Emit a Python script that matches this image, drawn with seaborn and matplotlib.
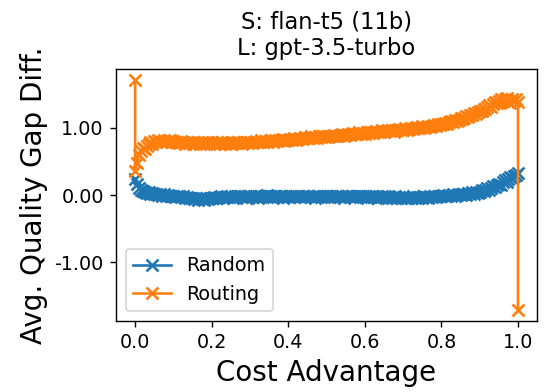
import numpy as np
import pandas as pd
import matplotlib
matplotlib.use("Agg")
import matplotlib.pyplot as plt
import seaborn as sns
from matplotlib.ticker import FormatStrFormatter

title_text = "S: flan-t5 (11b)\nL: gpt-3.5-turbo"
x_label = "Cost Advantage"
y_label = "Avg. Quality Gap Diff."
series_names = ["Random", "Routing"]

grid = [round(i * 0.005, 3) for i in range(201)]

random_y = [
    0.24, 0.16, 0.11, 0.08, 0.06, 0.05, 0.03, 0.04, 0.02, 0.03,
    0.01, 0.02, 0.00, 0.01, -0.01, 0.01, -0.02, 0.00, -0.01, -0.02,
    -0.01, -0.03, -0.02, -0.01, -0.03, -0.02, -0.04, -0.03, -0.05, -0.04,
    -0.05, -0.06, -0.04, -0.07, -0.05, -0.06, -0.07, -0.05, -0.06, -0.04,
    -0.05, -0.03, -0.04, -0.05, -0.03, -0.02, -0.04, -0.03, -0.01, -0.03,
    -0.02, -0.04, -0.01, -0.03, -0.02, -0.01, -0.03, -0.02, -0.04, -0.01,
    -0.02, -0.03, -0.01, -0.02, -0.04, -0.02, -0.01, -0.03, -0.02, 0.00,
    -0.02, -0.03, -0.01, -0.02, -0.03, -0.01, -0.02, -0.04, -0.01, -0.02,
    -0.03, -0.01, -0.02, -0.03, -0.02, -0.01, -0.03, -0.02, -0.01, -0.03,
    -0.02, -0.01, -0.03, -0.02, -0.04, -0.01, -0.02, -0.03, -0.02, -0.01,
    -0.02, -0.03, -0.01, -0.02, -0.03, -0.02, -0.01, -0.03, -0.02, -0.04,
    -0.01, -0.02, -0.03, -0.02, -0.01, -0.03, -0.02, -0.01, -0.02, -0.03,
    -0.02, -0.04, -0.02, -0.03, -0.01, -0.03, -0.02, -0.04, -0.03, -0.02,
    -0.03, -0.04, -0.02, -0.03, -0.05, -0.03, -0.02, -0.04, -0.03, -0.04,
    -0.03, -0.05, -0.04, -0.03, -0.04, -0.02, -0.04, -0.03, -0.05, -0.03,
    -0.04, -0.02, -0.03, -0.04, -0.02, -0.03, -0.01, -0.03, -0.02, -0.01,
    -0.02, 0.00, -0.01, -0.02, 0.00, -0.01, 0.01, -0.01, 0.00, 0.01,
    0.00, 0.02, 0.01, 0.00, 0.03, 0.02, 0.04, 0.02, 0.05, 0.03,
    0.05, 0.07, 0.06, 0.08, 0.10, 0.08, 0.11, 0.13, 0.12, 0.15,
    0.17, 0.15, 0.19, 0.22, 0.20, 0.24, 0.26, 0.25, 0.28, 0.30,
    0.33,
]

routing_x = [0.0] + grid + [1.0]
routing_y = [
    1.70,
    0.36, 0.48, 0.60, 0.66, 0.70, 0.68, 0.72, 0.75, 0.78, 0.76,
    0.80, 0.78, 0.82, 0.80, 0.79, 0.81, 0.78, 0.80, 0.82, 0.79,
    0.80, 0.78, 0.79, 0.77, 0.80, 0.78, 0.76, 0.79, 0.77, 0.78,
    0.76, 0.79, 0.77, 0.78, 0.75, 0.77, 0.79, 0.76, 0.78, 0.77,
    0.78, 0.76, 0.77, 0.79, 0.76, 0.78, 0.77, 0.75, 0.78, 0.77,
    0.76, 0.78, 0.77, 0.79, 0.77, 0.78, 0.76, 0.79, 0.78, 0.77,
    0.79, 0.77, 0.78, 0.80, 0.78, 0.79, 0.81, 0.79, 0.80, 0.78,
    0.80, 0.82, 0.79, 0.81, 0.80, 0.82, 0.81, 0.83, 0.80, 0.82,
    0.81, 0.83, 0.82, 0.84, 0.82, 0.83, 0.85, 0.83, 0.84, 0.86,
    0.84, 0.85, 0.87, 0.85, 0.86, 0.84, 0.87, 0.86, 0.88, 0.86,
    0.87, 0.86, 0.88, 0.87, 0.89, 0.88, 0.87, 0.89, 0.90, 0.88,
    0.89, 0.91, 0.89, 0.90, 0.92, 0.90, 0.91, 0.93, 0.91, 0.92,
    0.91, 0.93, 0.92, 0.94, 0.92, 0.93, 0.95, 0.93, 0.94, 0.96,
    0.94, 0.95, 0.97, 0.95, 0.96, 0.94, 0.97, 0.96, 0.98, 0.96,
    0.97, 0.99, 0.97, 0.98, 1.00, 0.98, 0.99, 1.01, 0.99, 1.00,
    1.02, 1.00, 1.01, 1.03, 1.01, 1.02, 1.04, 1.03, 1.05, 1.04,
    1.06, 1.05, 1.07, 1.06, 1.08, 1.10, 1.09, 1.11, 1.10, 1.12,
    1.14, 1.13, 1.15, 1.17, 1.16, 1.19, 1.18, 1.21, 1.20, 1.23,
    1.25, 1.24, 1.28, 1.27, 1.30, 1.33, 1.31, 1.35, 1.38, 1.36,
    1.40, 1.43, 1.39, 1.42, 1.44, 1.40, 1.37, 1.42, 1.39, 1.43,
    1.38,
    -1.70,
]

df = pd.DataFrame({
    "x": grid + routing_x,
    "y": random_y + routing_y,
    "series": [series_names[0]] * len(grid) + [series_names[1]] * len(routing_x),
})

DPI = 125
fig = plt.figure(figsize=(547 / DPI, 392 / DPI), dpi=DPI)
ax = fig.add_axes([0.212, 0.181, 0.770, 0.643])
palette = ["#1f77b4", "#ff7f0e"]
sns.lineplot(data=df, x="x", y="y", hue="series", palette=palette,
             estimator=None, sort=False, marker="x", markersize=6.7,
             markeredgewidth=1.5, linewidth=1.5, ax=ax)
for ln in ax.lines:
    ln.set_markeredgecolor(ln.get_color())

ax.set_title(title_text, fontsize=13, pad=8)
ax.set_xlabel(x_label, fontsize=16)
ax.set_ylabel(y_label, fontsize=16)
ax.set_yticks([-1, 0, 1])
ax.yaxis.set_major_formatter(FormatStrFormatter("%.2f"))
ax.set_xticks([0.0, 0.2, 0.4, 0.6, 0.8, 1.0])
ax.tick_params(labelsize=11)
leg = ax.legend(loc="lower left", fontsize=11, title=None)
for ln in leg.get_lines():
    ln.set_markeredgecolor(ln.get_color())

fig.savefig("out.png", dpi=DPI)
